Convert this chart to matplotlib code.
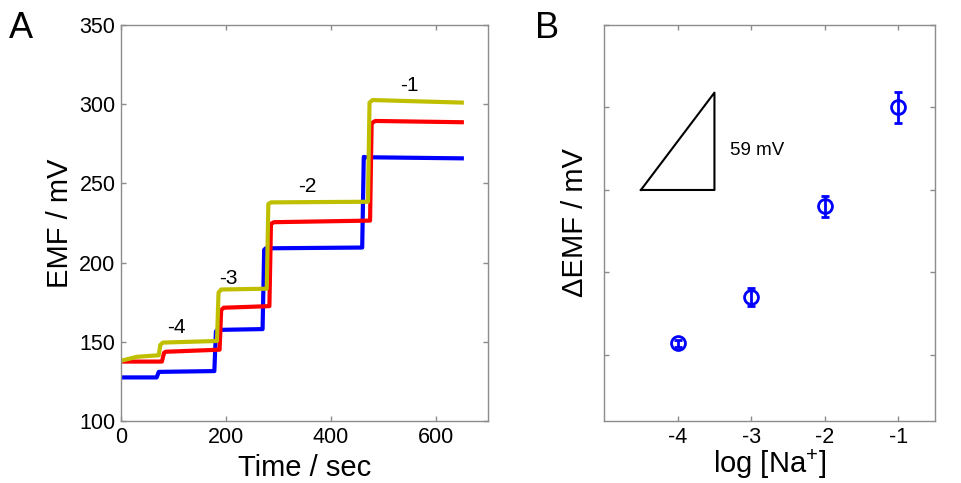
import numpy as np
import matplotlib
matplotlib.use("Agg")
import matplotlib.pyplot as plt

plt.rcParams['font.family'] = ['Liberation Sans', 'DejaVu Sans']
plt.rcParams['mathtext.fontset'] = 'custom'
plt.rcParams['mathtext.rm'] = 'Liberation Sans'
plt.rcParams['mathtext.it'] = 'Liberation Sans:italic'

# Panel A: EMF response traces (breakpoints of each trace, seconds / mV)
t_blue = [0, 68, 72, 178, 181, 184, 270, 273, 276, 460, 463, 466, 650]
emf_blue = [127.5, 127.5, 131, 131.5, 156.5, 157.5, 158, 208, 209, 209.5, 266.7, 266.5, 265.8]

t_red = [0, 78, 82, 85, 188, 191, 196, 283, 286, 292, 475, 478, 485, 650]
emf_red = [137.5, 137.5, 143, 143.7, 145, 170, 171.5, 172.5, 224.5, 225.5, 226.5, 288, 289.4, 288.6]

t_yel = [0, 30, 72, 75, 80, 183, 186, 191, 278, 281, 286, 471, 474, 480, 650]
emf_yel = [138, 140.5, 141.5, 148, 149.5, 150.5, 181, 183, 183.5, 237, 238, 238.4, 301, 302.6, 301]

step_labels = ['-4', '-3', '-2', '-1']
label_t = [105, 204, 356, 550]
label_emf = [159, 190, 248, 312]

# Panel B: calibration points
log_na = [-4, -3, -2, -1]
d_emf = [7, 35, 90, 150]
d_err = [2, 5.5, 6.5, 9.5]

fig = plt.figure(figsize=(9.62, 4.83), dpi=100)
ax1 = fig.add_axes([0.1258, 0.1284, 0.3815, 0.8199])
ax2 = fig.add_axes([0.628, 0.1284, 0.344, 0.8199])

for ax in (ax1, ax2):
    for s in ax.spines.values():
        s.set_color('#8c8c8c')
        s.set_linewidth(1.0)
    ax.tick_params(direction='in', length=3.5, width=1.0, color='#8c8c8c',
                   top=True, right=True, labelsize=15.5, labelcolor='black')
    ax.tick_params(axis='x', pad=4)
    ax.tick_params(axis='y', pad=4)

ax1.plot(t_blue, emf_blue, color='#0000ff', lw=3)
ax1.plot(t_red, emf_red, color='#ff0000', lw=3)
ax1.plot(t_yel, emf_yel, color='#bfbf00', lw=3)
for lab, x, y in zip(step_labels, label_t, label_emf):
    ax1.text(x, y, lab, fontsize=15, ha='center', va='center')
ax1.set_xlim(0, 700)
ax1.set_ylim(100, 350)
ax1.set_xticks([0, 200, 400, 600])
ax1.set_yticks([100, 150, 200, 250, 300, 350])
ax1.set_xlabel('Time / sec', fontsize=21, labelpad=5)
ax1.set_ylabel('EMF / mV', fontsize=21, labelpad=4)

ax2.errorbar(log_na, d_emf, yerr=d_err, fmt='o', color='#0000ff', mfc='none',
             mec='#0000ff', ms=10, mew=2, elinewidth=2, capsize=3, capthick=2)
# slope triangle
ax2.plot([-4.5, -3.5, -3.5, -4.5], [100, 100, 159, 100], color='black', lw=1.5)
ax2.text(-3.29, 124, '59 mV', fontsize=13.5, ha='left', va='center')
ax2.set_xlim(-5, -0.5)
ax2.set_ylim(-40, 200)
ax2.set_xticks([-4, -3, -2, -1])
ax2.set_xticklabels(['-4', '-3', '-2', '-1'])
ax2.set_yticks([0, 50, 100, 150, 200])
ax2.set_yticklabels([])
ax2.set_xlabel('log [Na$^{+}$]', fontsize=21, labelpad=0)
ax2.set_ylabel('\u0394EMF / mV', fontsize=21, labelpad=7)

fig.text(0.0213, 0.94, 'A', fontsize=26, ha='center', va='center')
fig.text(0.569, 0.94, 'B', fontsize=26, ha='center', va='center')

fig.savefig('out.png', dpi=100)
